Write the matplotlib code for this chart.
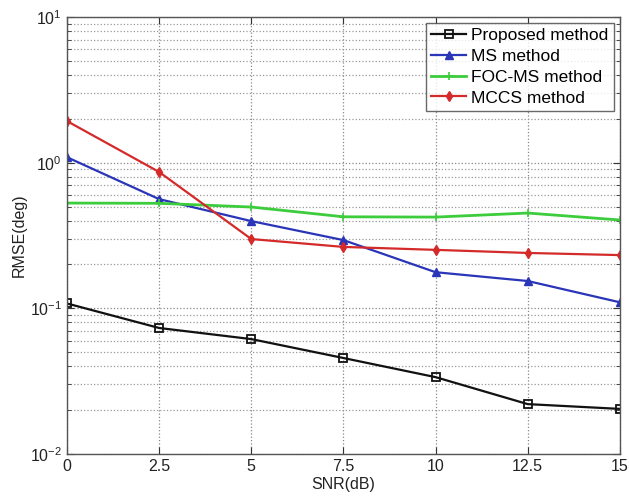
import matplotlib
matplotlib.use("Agg")
import matplotlib.pyplot as plt
from matplotlib.ticker import LogLocator, NullFormatter, FixedLocator

plt.rcParams['font.family'] = ['Liberation Sans', 'DejaVu Sans']
plt.rcParams['mathtext.fontset'] = 'custom'
plt.rcParams['mathtext.rm'] = 'Liberation Sans'

snr = [0, 2.5, 5, 7.5, 10, 12.5, 15]
proposed = [0.108, 0.0733, 0.0615, 0.0456, 0.0337, 0.0220, 0.0204]
ms = [1.09, 0.562, 0.397, 0.294, 0.177, 0.154, 0.110]
foc_ms = [0.528, 0.526, 0.496, 0.425, 0.423, 0.451, 0.404]
mccs = [1.93, 0.863, 0.299, 0.264, 0.252, 0.240, 0.232]

xticks = [0, 2.5, 5, 7.5, 10, 12.5, 15]
xticklabels = ['0', '2.5', '5', '7.5', '10', '12.5', '15']

fig = plt.figure(figsize=(6.29, 5.0), dpi=100)
ax = fig.add_axes([0.1065, 0.092, 0.879, 0.874])

ax.plot(snr, proposed, color='#111111', lw=1.6, marker='s', ms=6,
        mfc='none', mec='#111111', mew=1.3, label='Proposed method')
ax.plot(snr, ms, color='#2a35b8', lw=1.6, marker='^', ms=6,
        mfc='#2a35b8', mec='#2a35b8', label='MS method')
ax.plot(snr, foc_ms, color='#3ccc3c', lw=2.0, marker='+', ms=6,
        mew=1.2, label='FOC-MS method')
ax.plot(snr, mccs, color='#d42a2a', lw=1.6, marker='d', ms=5,
        mfc='#d42a2a', mec='#d42a2a', label='MCCS method')

ax.set_yscale('log')
ax.set_xlim(0, 15)
ax.set_ylim(1e-2, 1e1)
ax.xaxis.set_major_locator(FixedLocator(xticks))
ax.set_xticklabels(xticklabels)
ax.yaxis.set_major_locator(LogLocator(base=10, numticks=10))
ax.yaxis.set_minor_locator(LogLocator(base=10, subs=range(2, 10), numticks=20))
ax.yaxis.set_minor_formatter(NullFormatter())

ax.grid(True, which='major', linestyle=':', color='#888888', lw=0.9)
ax.grid(True, which='minor', axis='y', linestyle=':', color='#999999', lw=0.9)
ax.tick_params(which='both', direction='in', top=True, right=True,
               labelsize=11.5, colors='#333333', labelcolor='#222222')
ax.tick_params(which='major', length=5)
ax.tick_params(which='minor', length=3)
for s in ax.spines.values():
    s.set_color('#555555')
    s.set_linewidth(1.0)

ax.set_xlabel('SNR(dB)', fontsize=11.5, color='#222222', labelpad=2)
ax.set_ylabel('RMSE(deg)', fontsize=11.5, color='#222222', labelpad=2)

leg = ax.legend(loc='upper right', fontsize=12.5, frameon=True, fancybox=False,
                edgecolor='#444444', borderpad=0.3, labelspacing=0.32,
                handlelength=2.0, handletextpad=0.3, borderaxespad=0.35)
leg.get_frame().set_linewidth(1.0)

fig.savefig('out.png', dpi=100)
